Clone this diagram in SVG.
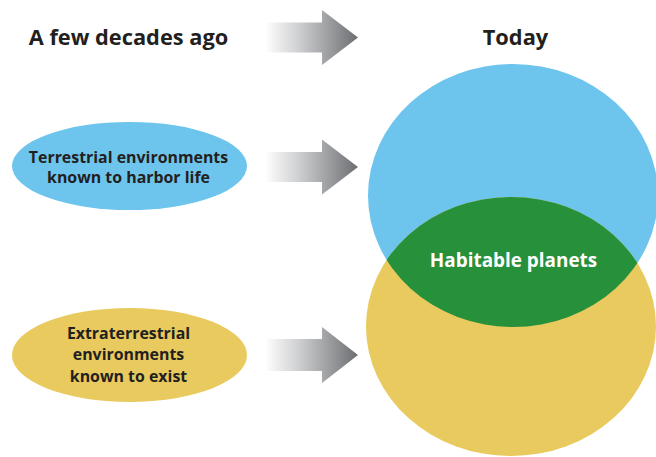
<svg xmlns="http://www.w3.org/2000/svg" width="656" height="457" viewBox="0 0 656 457">
<defs>
<linearGradient id="ag" x1="0" y1="0" x2="1" y2="0">
<stop offset="0" stop-color="#ffffff"/>
<stop offset="0.35" stop-color="#d0d1d3"/>
<stop offset="1" stop-color="#6d6e71"/>
</linearGradient>
<clipPath id="blueClip"><ellipse cx="513" cy="195.5" rx="145" ry="131.5"/></clipPath>
</defs>
<style>
.t{font-family:"Open Sans","Liberation Sans",sans-serif;font-weight:bold;fill:#231f20;text-anchor:middle}
.h{font-size:21.8px}
.n{font-size:15.9px}
</style>
<rect width="656" height="457" fill="#ffffff"/>
<g id="title-past"><text class="t h" x="128.5" y="45">A few decades ago</text></g>
<g id="title-today"><text class="t h" x="515.5" y="45">Today</text></g>
<g id="connectors">
<path d="M265,22.5 H322 V10 L358,37.5 L322,65 V52.5 H265 Z" fill="url(#ag)"/>
<path d="M265,152 H322 V139.5 L358,167 L322,194.5 V182 H265 Z" fill="url(#ag)"/>
<path d="M265,339 H322 V327 L358,355 L322,383 V371 H265 Z" fill="url(#ag)"/>
</g>
<g id="terrestrial">
<ellipse cx="129.5" cy="166" rx="117.5" ry="44" fill="#6dc5ee"/>
<text class="t n" x="128.5" y="163">Terrestrial environments</text>
<text class="t n" x="128.5" y="183">known to harbor life</text>
</g>
<g id="extraterrestrial">
<ellipse cx="129.5" cy="355" rx="117.5" ry="47" fill="#e8ca5e"/>
<text class="t n" x="128.5" y="339">Extraterrestrial</text>
<text class="t n" x="128.5" y="360">environments</text>
<text class="t n" x="128.5" y="382">known to exist</text>
</g>
<g id="today-blue"><ellipse cx="513" cy="195.5" rx="145" ry="131.5" fill="#6dc5ee"/></g>
<g id="today-yellow"><ellipse cx="511" cy="326.5" rx="145" ry="129.5" fill="#e8ca5e"/></g>
<g id="habitable">
<ellipse cx="511" cy="326.5" rx="145" ry="129.5" fill="#27903b" clip-path="url(#blueClip)"/>
<text class="t" x="513.5" y="267" style="font-size:18.9px;fill:#ffffff">Habitable planets</text>
</g>
</svg>
